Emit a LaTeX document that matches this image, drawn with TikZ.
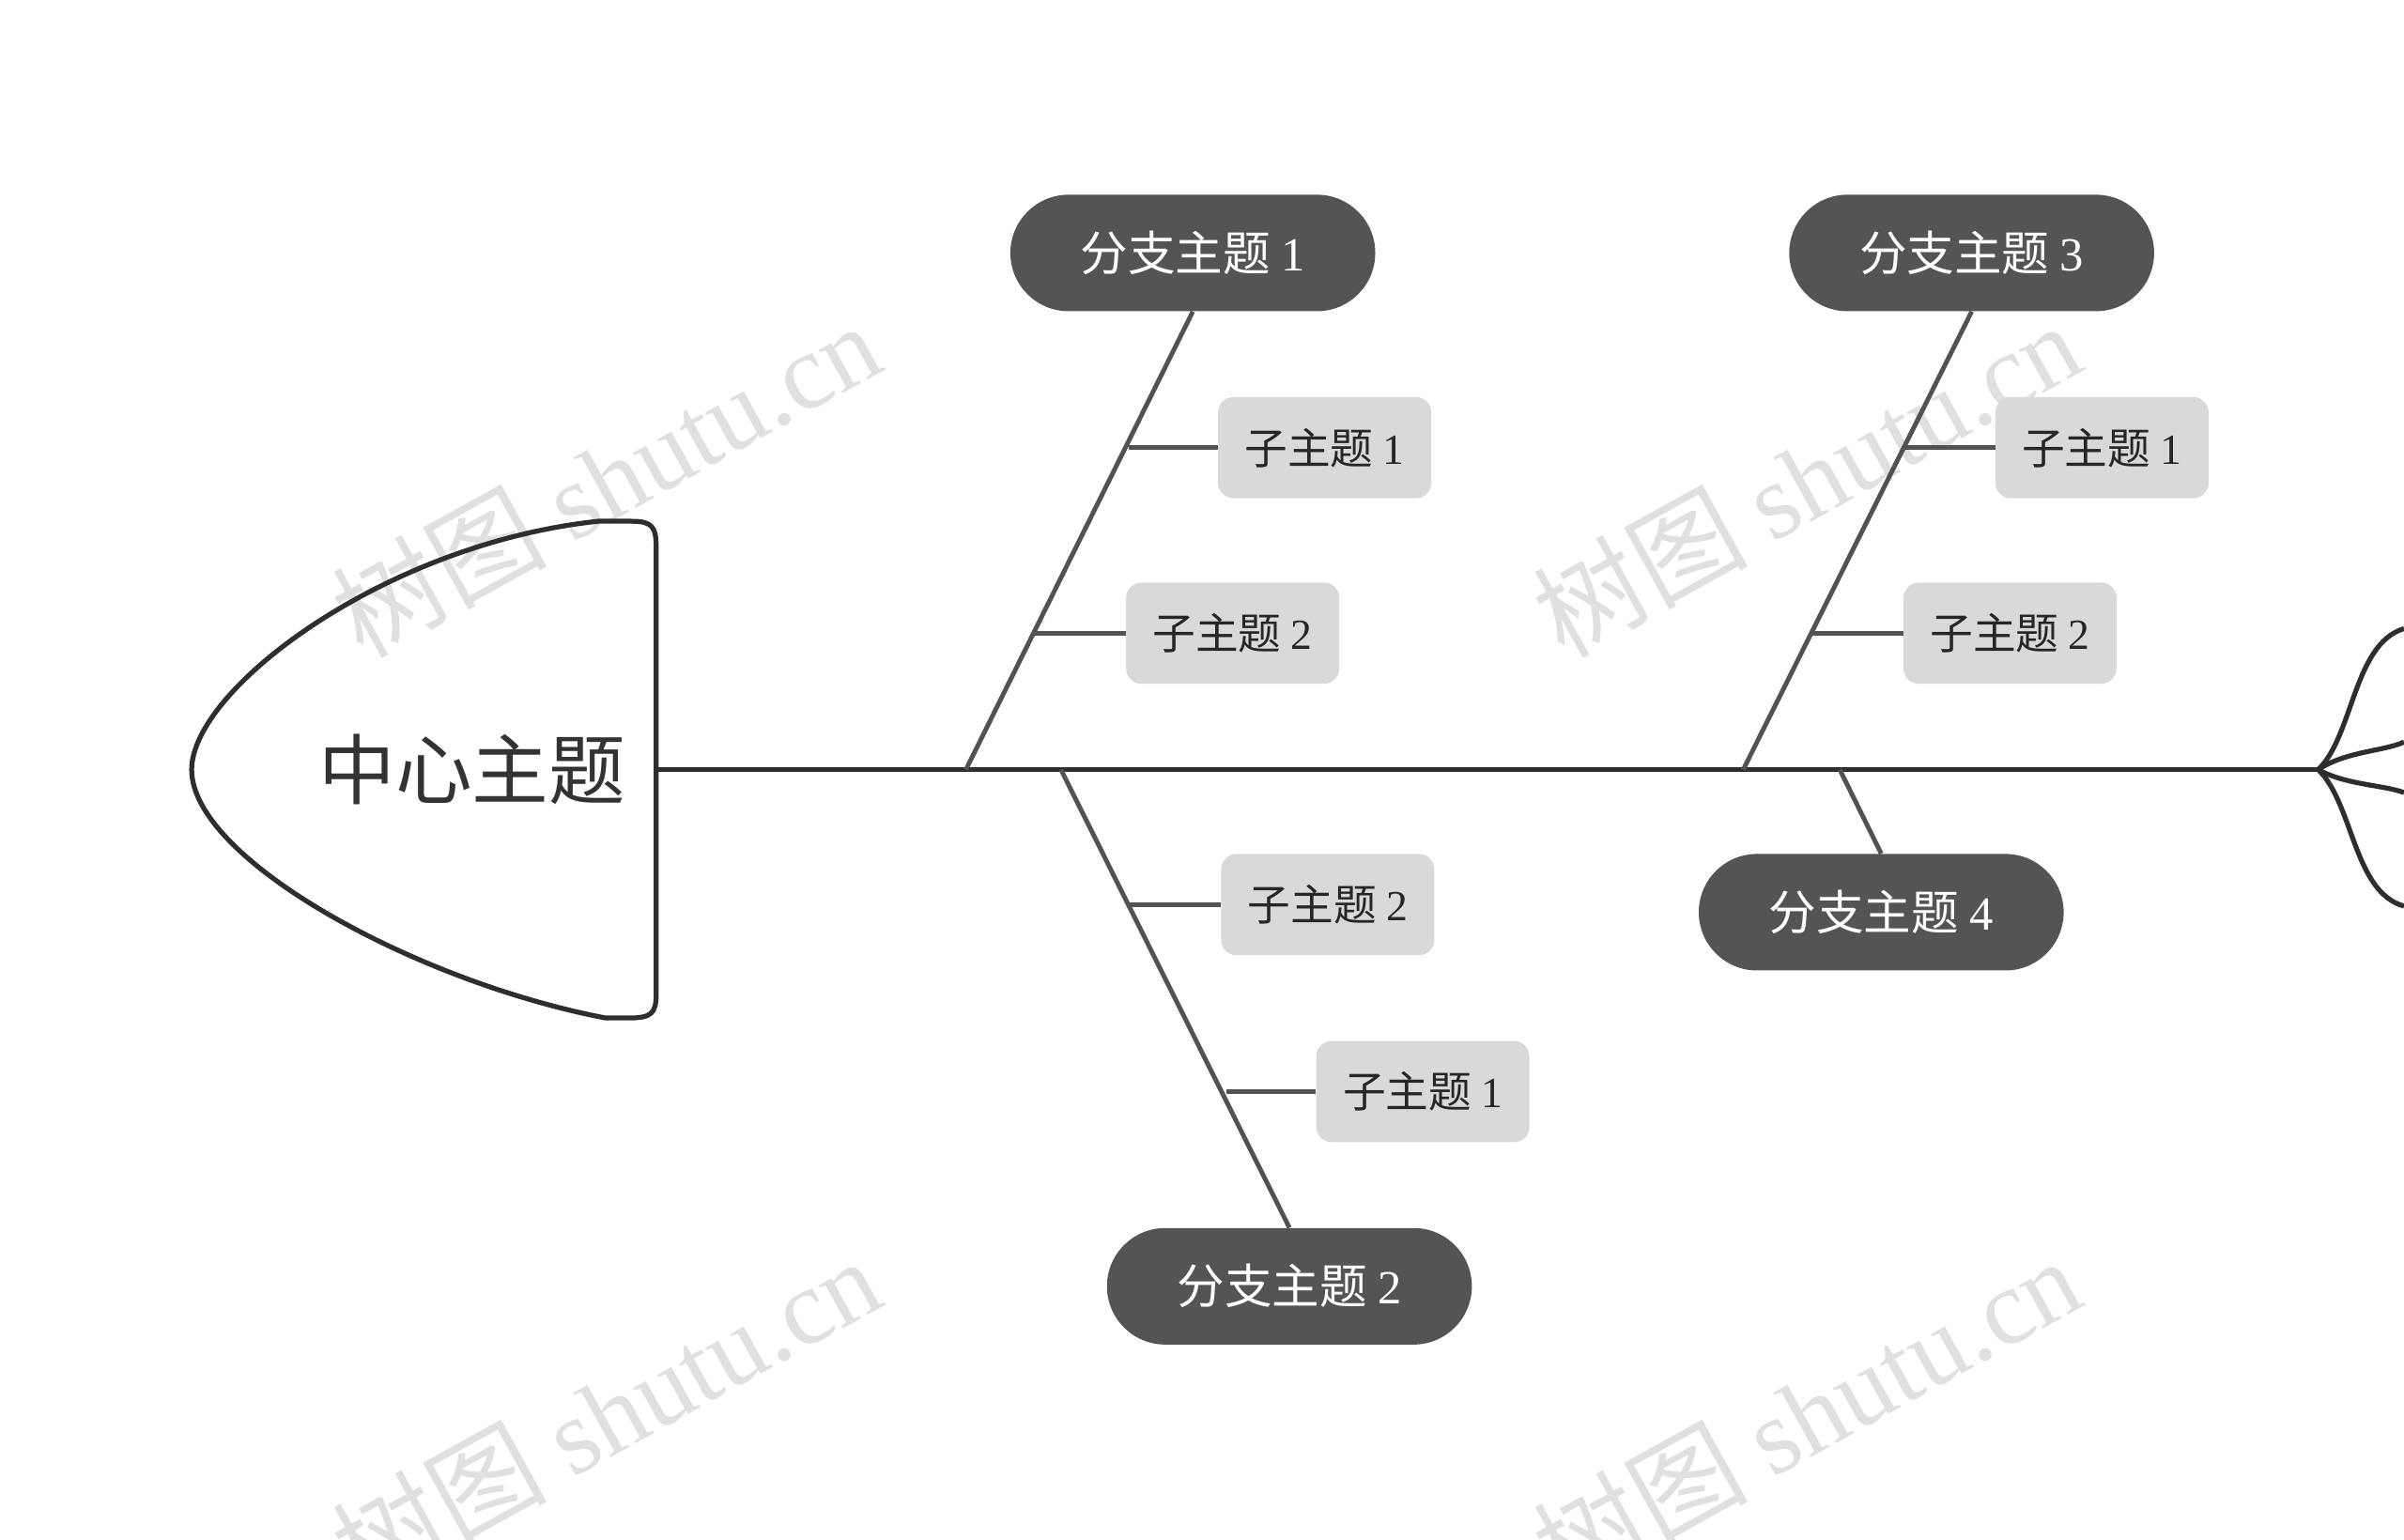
\documentclass[tikz,border=0pt]{standalone}
\usepackage{fontspec}
\setmainfont{Noto Sans CJK SC}
\newfontfamily\numfont{Liberation Serif}
\begin{document}
\begin{tikzpicture}[x=1pt,y=-1pt,
  line/.style={draw=black!82,line width=3.2pt},
  bone/.style={draw=black!68,line width=3pt},
  branch/.style={fill=black!67,text=white,rounded corners=38pt,minimum width=238pt,minimum height=76pt,inner sep=0pt,font=\fontsize{31}{32}\selectfont},
  sub/.style={fill=black!15,text=black!85,rounded corners=10pt,minimum width=139pt,minimum height=66pt,inner sep=0pt,font=\fontsize{28}{30}\selectfont},
  wm/.style={text=black!12,rotate=29,font=\fontsize{70}{72}\selectfont}]
\useasboundingbox (0,0) rectangle (1568,1004);
% watermarks
\node[wm] at (395,312) {树图 {\numfont shutu.cn}};
\node[wm] at (1178,312) {树图 {\numfont shutu.cn}};
\node[wm] at (395,922) {树图 {\numfont shutu.cn}};
\node[wm] at (1178,922) {树图 {\numfont shutu.cn}};
% spine
\coordinate (hr) at (428,502);
\coordinate (tj) at (1512,502);
\draw[line] (hr) -- (tj);
% head
\draw[line,line join=round] (390,340) -- (412,340) .. controls (426,340) and (428,344) .. (428,358) -- (428,648) .. controls (428,661) and (425,664) .. (410,664) -- (395,664)
  .. controls (270,640) and (125,560) .. (125,502) .. controls (125,450) and (250,355) .. (390,340);
\node[font=\fontsize{50}{52}\selectfont,text=black!80] (center) at (308,502) {中心主题};
% tail
\draw[line] (tj) .. controls (1535,480) and (1535,420) .. (1568,410);
\draw[line] (tj) .. controls (1530,490) and (1555,490) .. (1568,484);
\draw[line] (tj) .. controls (1530,512) and (1555,512) .. (1568,517);
\draw[line] (tj) .. controls (1535,524) and (1535,582) .. (1568,591);
% branches
\node[branch] (b1) at (778,165) {分支主题 {\numfont 1}};
\node[branch] (b2) at (841,839) {分支主题 {\numfont 2}};
\node[branch] (b3) at (1286,165) {分支主题 {\numfont 3}};
\node[branch] (b4) at (1227,595) {分支主题 {\numfont 4}};
\coordinate (j1) at (630,502);
\coordinate (j2) at (692,502);
\coordinate (j3) at (1137,502);
\coordinate (j4) at (1200,502);
\draw[bone] (b1.south) -- (j1);
\draw[bone] (b2.north) -- (j2);
\draw[bone] (b3.south) -- (j3);
\draw[bone] (b4.north) -- (j4);
% subs
\node[sub] (s11) at (864,292) {子主题 {\numfont 1}};
\node[sub] (s12) at (804,413) {子主题 {\numfont 2}};
\node[sub] (s22) at (866,590) {子主题 {\numfont 2}};
\node[sub] (s21) at (928,712) {子主题 {\numfont 1}};
\node[sub] (s31) at (1371,292) {子主题 {\numfont 1}};
\node[sub] (s32) at (1311,413) {子主题 {\numfont 2}};
\coordinate (c11) at (736,292);
\coordinate (c12) at (675,413);
\coordinate (c22) at (737,590);
\coordinate (c21) at (800,712);
\coordinate (c31) at (1243,292);
\coordinate (c32) at (1182,413);
\draw[bone] (c11) -- (s11.west);
\draw[bone] (c12) -- (s12.west);
\draw[bone] (c22) -- (s22.west);
\draw[bone] (c21) -- (s21.west);
\draw[bone] (c31) -- (s31.west);
\draw[bone] (c32) -- (s32.west);
\end{tikzpicture}
\end{document}
